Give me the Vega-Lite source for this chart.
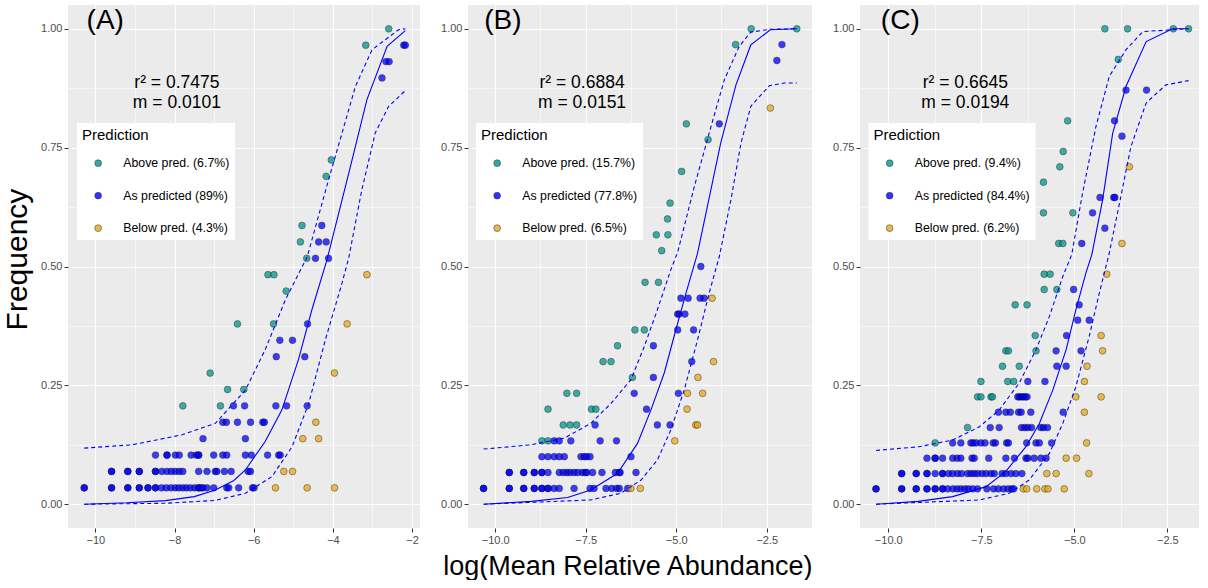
{
"$schema": "https://vega.github.io/schema/vega-lite/v6.json",
"padding": {"left": 2, "top": 5, "right": 0, "bottom": 0},
"background": "white",
"config": {
  "font": "Liberation Sans",
  "view": {"fill": "#EBEBEB", "stroke": null},
  "axis": {"domain": false, "gridColor": "white", "tickColor": "#333333", "tickSize": 4, "labelColor": "#4D4D4D", "labelFontSize": 11, "labelPadding": 2, "titleFontWeight": "normal", "titleColor": "black", "labelFont": "Liberation Sans", "titleFont": "Liberation Sans"},
  "legend": {"orient": "none", "legendX": 9, "legendY": 118, "fillColor": "white", "padding": 5, "titleFontSize": 15, "titleFontWeight": "normal", "titleColor": "black", "titlePadding": 14, "labelFontSize": 12.3, "labelColor": "black", "symbolType": "circle", "symbolSize": 46, "symbolStrokeColor": "black", "symbolStrokeWidth": 0.5, "symbolOpacity": 0.8, "rowPadding": 19.5, "symbolOffset": 10, "labelOffset": 19, "titleFont": "Liberation Sans", "labelFont": "Liberation Sans"}
},
"title": {"text": "log(Mean Relative Abundance)", "orient": "bottom", "fontSize": 27, "fontWeight": "normal", "color": "black", "font": "Liberation Sans", "offset": 9, "anchor": "middle", "dx": 27},
"spacing": 20,
"resolve": {"scale": {"x": "independent", "y": "independent", "fill": "independent"}, "legend": {"fill": "independent"}},
"datasets": {
"ptsA": [
{"x":-10.28,"y":0.0345,"pred":"As"},{"x":-10.28,"y":0.0345,"pred":"As"},{"x":-9.59,"y":0.0345,"pred":"As"},{"x":-9.59,"y":0.0345,"pred":"As"},{"x":-9.18,"y":0.0345,"pred":"As"},{"x":-9.18,"y":0.0345,"pred":"As"},{"x":-8.89,"y":0.0345,"pred":"As"},{"x":-8.89,"y":0.0345,"pred":"As"},{"x":-8.67,"y":0.0345,"pred":"As"},{"x":-8.67,"y":0.0345,"pred":"As"},{"x":-8.48,"y":0.0345,"pred":"As"},{"x":-8.48,"y":0.0345,"pred":"As"},{"x":-8.33,"y":0.0345,"pred":"As"},{"x":-8.21,"y":0.0345,"pred":"As"},{"x":-8.09,"y":0.0345,"pred":"As"},{"x":-7.98,"y":0.0345,"pred":"As"},{"x":-7.89,"y":0.0345,"pred":"As"},{"x":-7.79,"y":0.0345,"pred":"As"},{"x":-7.70,"y":0.0345,"pred":"As"},{"x":-7.60,"y":0.0345,"pred":"As"},{"x":-7.49,"y":0.0345,"pred":"As"},{"x":-7.39,"y":0.0345,"pred":"As"},{"x":-7.39,"y":0.0345,"pred":"As"},{"x":-7.32,"y":0.0345,"pred":"As"},{"x":-7.28,"y":0.0345,"pred":"As"},{"x":-7.18,"y":0.0345,"pred":"As"},{"x":-7.01,"y":0.0345,"pred":"As"},{"x":-6.68,"y":0.0345,"pred":"As"},{"x":-6.63,"y":0.0345,"pred":"As"},{"x":-6.38,"y":0.0345,"pred":"As"},{"x":-6.03,"y":0.0345,"pred":"As"},{"x":-5.99,"y":0.0345,"pred":"As"},{"x":-5.45,"y":0.0345,"pred":"Below"},{"x":-4.65,"y":0.0345,"pred":"Below"},{"x":-3.96,"y":0.0345,"pred":"Below"},
{"x":-9.59,"y":0.069,"pred":"As"},{"x":-9.59,"y":0.069,"pred":"As"},{"x":-9.18,"y":0.069,"pred":"As"},{"x":-9.18,"y":0.069,"pred":"As"},{"x":-8.89,"y":0.069,"pred":"As"},{"x":-8.89,"y":0.069,"pred":"As"},{"x":-8.48,"y":0.069,"pred":"As"},{"x":-8.48,"y":0.069,"pred":"As"},{"x":-8.32,"y":0.069,"pred":"As"},{"x":-8.19,"y":0.069,"pred":"As"},{"x":-8.08,"y":0.069,"pred":"As"},{"x":-7.98,"y":0.069,"pred":"As"},{"x":-7.88,"y":0.069,"pred":"As"},{"x":-7.79,"y":0.069,"pred":"As"},{"x":-7.39,"y":0.069,"pred":"As"},{"x":-7.18,"y":0.069,"pred":"As"},{"x":-6.97,"y":0.069,"pred":"As"},{"x":-6.93,"y":0.069,"pred":"As"},{"x":-6.74,"y":0.069,"pred":"As"},{"x":-6.57,"y":0.069,"pred":"As"},{"x":-6.14,"y":0.069,"pred":"As"},{"x":-6.08,"y":0.069,"pred":"As"},{"x":-5.24,"y":0.069,"pred":"Below"},{"x":-5.02,"y":0.069,"pred":"Below"},
{"x":-8.48,"y":0.1034,"pred":"As"},{"x":-8.19,"y":0.1034,"pred":"As"},{"x":-8.19,"y":0.1034,"pred":"As"},{"x":-7.98,"y":0.1034,"pred":"As"},{"x":-7.88,"y":0.1034,"pred":"As"},{"x":-7.58,"y":0.1034,"pred":"As"},{"x":-7.45,"y":0.1034,"pred":"As"},{"x":-7.39,"y":0.1034,"pred":"As"},{"x":-7.39,"y":0.1034,"pred":"As"},{"x":-7.01,"y":0.1034,"pred":"As"},{"x":-6.78,"y":0.1034,"pred":"As"},{"x":-6.68,"y":0.1034,"pred":"As"},{"x":-6.21,"y":0.1034,"pred":"As"},{"x":-6.06,"y":0.1034,"pred":"As"},{"x":-5.65,"y":0.1034,"pred":"As"},{"x":-5.37,"y":0.1034,"pred":"As"},{"x":-5.33,"y":0.1034,"pred":"As"},
{"x":-7.28,"y":0.1379,"pred":"As"},{"x":-6.21,"y":0.1379,"pred":"As"},{"x":-4.76,"y":0.1379,"pred":"Below"},{"x":-4.36,"y":0.1379,"pred":"Below"},
{"x":-6.78,"y":0.1724,"pred":"As"},{"x":-6.69,"y":0.1724,"pred":"As"},{"x":-6.41,"y":0.1724,"pred":"As"},{"x":-6.08,"y":0.1724,"pred":"As"},{"x":-5.77,"y":0.1724,"pred":"As"},{"x":-5.73,"y":0.1724,"pred":"As"},{"x":-4.43,"y":0.1724,"pred":"Below"},
{"x":-7.79,"y":0.2069,"pred":"Above"},{"x":-6.84,"y":0.2069,"pred":"Above"},{"x":-6.51,"y":0.2069,"pred":"As"},{"x":-6.23,"y":0.2069,"pred":"As"},{"x":-5.44,"y":0.2069,"pred":"As"},{"x":-5.17,"y":0.2069,"pred":"As"},{"x":-4.65,"y":0.2069,"pred":"As"},
{"x":-6.66,"y":0.2414,"pred":"Above"},{"x":-6.25,"y":0.2414,"pred":"Above"},
{"x":-7.10,"y":0.2759,"pred":"Above"},{"x":-3.96,"y":0.2759,"pred":"Below"},
{"x":-5.43,"y":0.3103,"pred":"As"},{"x":-4.71,"y":0.3103,"pred":"As"},
{"x":-5.34,"y":0.3448,"pred":"As"},{"x":-5.02,"y":0.3448,"pred":"As"},
{"x":-6.41,"y":0.3793,"pred":"Above"},{"x":-5.50,"y":0.3793,"pred":"Above"},{"x":-4.64,"y":0.3793,"pred":"As"},{"x":-3.64,"y":0.3793,"pred":"Below"},
{"x":-5.18,"y":0.4483,"pred":"Above"},
{"x":-5.64,"y":0.4828,"pred":"Above"},{"x":-5.49,"y":0.4828,"pred":"Above"},{"x":-3.14,"y":0.4828,"pred":"Below"},
{"x":-4.66,"y":0.5172,"pred":"Above"},{"x":-4.44,"y":0.5172,"pred":"As"},{"x":-4.11,"y":0.5172,"pred":"As"},
{"x":-4.82,"y":0.5517,"pred":"Above"},{"x":-4.36,"y":0.5517,"pred":"As"},{"x":-4.17,"y":0.5517,"pred":"As"},
{"x":-4.78,"y":0.5862,"pred":"Above"},{"x":-4.28,"y":0.5862,"pred":"As"},
{"x":-4.17,"y":0.6897,"pred":"Above"},
{"x":-4.04,"y":0.7241,"pred":"Above"},
{"x":-2.76,"y":0.8966,"pred":"As"},
{"x":-2.66,"y":0.931,"pred":"As"},{"x":-2.58,"y":0.931,"pred":"As"},
{"x":-3.17,"y":0.9655,"pred":"Above"},{"x":-2.21,"y":0.9655,"pred":"As"},{"x":-2.17,"y":0.9655,"pred":"As"},
{"x":-2.59,"y":1.0,"pred":"Above"}
],
"ptsB": [
{"x":-10.32,"y":0.0333,"pred":"As"},{"x":-10.32,"y":0.0333,"pred":"As"},{"x":-9.61,"y":0.0333,"pred":"As"},{"x":-9.61,"y":0.0333,"pred":"As"},{"x":-9.21,"y":0.0333,"pred":"As"},{"x":-9.21,"y":0.0333,"pred":"As"},{"x":-8.92,"y":0.0333,"pred":"As"},{"x":-8.92,"y":0.0333,"pred":"As"},{"x":-8.71,"y":0.0333,"pred":"As"},{"x":-8.71,"y":0.0333,"pred":"As"},{"x":-8.54,"y":0.0333,"pred":"As"},{"x":-8.54,"y":0.0333,"pred":"As"},{"x":-8.37,"y":0.0333,"pred":"As"},{"x":-8.23,"y":0.0333,"pred":"As"},{"x":-7.82,"y":0.0333,"pred":"As"},{"x":-7.38,"y":0.0333,"pred":"As"},{"x":-7.27,"y":0.0333,"pred":"As"},{"x":-6.94,"y":0.0333,"pred":"As"},{"x":-6.78,"y":0.0333,"pred":"As"},{"x":-6.64,"y":0.0333,"pred":"As"},{"x":-6.57,"y":0.0333,"pred":"As"},{"x":-6.34,"y":0.0333,"pred":"As"},{"x":-6.25,"y":0.0333,"pred":"Below"},{"x":-5.99,"y":0.0333,"pred":"Below"},
{"x":-9.61,"y":0.0667,"pred":"As"},{"x":-9.61,"y":0.0667,"pred":"As"},{"x":-9.21,"y":0.0667,"pred":"As"},{"x":-9.21,"y":0.0667,"pred":"As"},{"x":-8.92,"y":0.0667,"pred":"As"},{"x":-8.92,"y":0.0667,"pred":"As"},{"x":-8.71,"y":0.0667,"pred":"As"},{"x":-8.71,"y":0.0667,"pred":"As"},{"x":-8.54,"y":0.0667,"pred":"As"},{"x":-8.23,"y":0.0667,"pred":"As"},{"x":-8.12,"y":0.0667,"pred":"As"},{"x":-8.02,"y":0.0667,"pred":"As"},{"x":-7.93,"y":0.0667,"pred":"As"},{"x":-7.82,"y":0.0667,"pred":"As"},{"x":-7.72,"y":0.0667,"pred":"As"},{"x":-7.59,"y":0.0667,"pred":"As"},{"x":-7.51,"y":0.0667,"pred":"As"},{"x":-7.47,"y":0.0667,"pred":"As"},{"x":-7.31,"y":0.0667,"pred":"As"},{"x":-7.05,"y":0.0667,"pred":"As"},{"x":-6.68,"y":0.0667,"pred":"As"},{"x":-6.57,"y":0.0667,"pred":"As"},{"x":-6.55,"y":0.0667,"pred":"As"},{"x":-6.11,"y":0.0667,"pred":"As"},
{"x":-8.71,"y":0.1,"pred":"As"},{"x":-8.54,"y":0.1,"pred":"As"},{"x":-8.37,"y":0.1,"pred":"As"},{"x":-8.23,"y":0.1,"pred":"As"},{"x":-8.09,"y":0.1,"pred":"As"},{"x":-7.63,"y":0.1,"pred":"As"},{"x":-7.54,"y":0.1,"pred":"As"},{"x":-7.47,"y":0.1,"pred":"As"},{"x":-7.38,"y":0.1,"pred":"As"},{"x":-6.25,"y":0.1,"pred":"As"},
{"x":-8.71,"y":0.1333,"pred":"Above"},{"x":-8.54,"y":0.1333,"pred":"Above"},{"x":-8.37,"y":0.1333,"pred":"As"},{"x":-8.23,"y":0.1333,"pred":"As"},{"x":-7.91,"y":0.1333,"pred":"As"},{"x":-7.10,"y":0.1333,"pred":"As"},{"x":-6.65,"y":0.1333,"pred":"As"},{"x":-5.04,"y":0.1333,"pred":"Below"},
{"x":-8.12,"y":0.1667,"pred":"Above"},{"x":-7.93,"y":0.1667,"pred":"Above"},{"x":-7.75,"y":0.1667,"pred":"Above"},{"x":-7.24,"y":0.1667,"pred":"As"},{"x":-5.52,"y":0.1667,"pred":"As"},{"x":-5.17,"y":0.1667,"pred":"As"},{"x":-4.46,"y":0.1667,"pred":"Below"},{"x":-4.41,"y":0.1667,"pred":"Below"},
{"x":-8.54,"y":0.2,"pred":"Above"},{"x":-7.34,"y":0.2,"pred":"Above"},{"x":-7.22,"y":0.2,"pred":"Above"},{"x":-5.82,"y":0.2,"pred":"As"},{"x":-4.70,"y":0.2,"pred":"Below"},
{"x":-8.02,"y":0.2333,"pred":"Above"},{"x":-7.75,"y":0.2333,"pred":"Above"},{"x":-6.16,"y":0.2333,"pred":"As"},{"x":-4.94,"y":0.2333,"pred":"As"},{"x":-4.69,"y":0.2333,"pred":"Below"},{"x":-4.27,"y":0.2333,"pred":"Below"},
{"x":-6.21,"y":0.2667,"pred":"Above"},{"x":-5.63,"y":0.2667,"pred":"As"},{"x":-4.40,"y":0.2667,"pred":"Below"},
{"x":-7.02,"y":0.3,"pred":"Above"},{"x":-6.80,"y":0.3,"pred":"Above"},{"x":-4.57,"y":0.3,"pred":"As"},{"x":-3.97,"y":0.3,"pred":"Below"},
{"x":-6.62,"y":0.3333,"pred":"Above"},{"x":-5.63,"y":0.3333,"pred":"As"},
{"x":-6.14,"y":0.3667,"pred":"Above"},{"x":-5.88,"y":0.3667,"pred":"Above"},{"x":-4.96,"y":0.3667,"pred":"As"},{"x":-4.52,"y":0.3667,"pred":"As"},
{"x":-4.96,"y":0.4,"pred":"As"},{"x":-4.92,"y":0.4,"pred":"As"},{"x":-4.76,"y":0.4,"pred":"As"},
{"x":-4.87,"y":0.4333,"pred":"As"},{"x":-4.67,"y":0.4333,"pred":"As"},{"x":-4.34,"y":0.4333,"pred":"As"},{"x":-4.23,"y":0.4333,"pred":"As"},{"x":-4.01,"y":0.4333,"pred":"Below"},
{"x":-5.86,"y":0.4667,"pred":"Above"},{"x":-5.49,"y":0.4667,"pred":"Above"},
{"x":-4.32,"y":0.5,"pred":"As"},
{"x":-5.40,"y":0.5333,"pred":"Above"},
{"x":-5.55,"y":0.5667,"pred":"Above"},{"x":-5.23,"y":0.5667,"pred":"Above"},
{"x":-5.24,"y":0.6,"pred":"Above"},
{"x":-5.17,"y":0.6333,"pred":"Above"},
{"x":-4.85,"y":0.7,"pred":"Above"},
{"x":-4.12,"y":0.7667,"pred":"Above"},
{"x":-4.72,"y":0.8,"pred":"Above"},{"x":-3.81,"y":0.8,"pred":"As"},
{"x":-2.40,"y":0.8333,"pred":"Below"},
{"x":-2.22,"y":0.9333,"pred":"As"},
{"x":-3.36,"y":0.9667,"pred":"Above"},{"x":-2.08,"y":0.9667,"pred":"As"},
{"x":-2.93,"y":1.0,"pred":"Above"},{"x":-1.67,"y":1.0,"pred":"Above"}
],
"ptsC": [
{"x":-10.33,"y":0.0323,"pred":"As"},{"x":-10.33,"y":0.0323,"pred":"As"},{"x":-9.64,"y":0.0323,"pred":"As"},{"x":-9.64,"y":0.0323,"pred":"As"},{"x":-9.25,"y":0.0323,"pred":"As"},{"x":-9.25,"y":0.0323,"pred":"As"},{"x":-8.96,"y":0.0323,"pred":"As"},{"x":-8.96,"y":0.0323,"pred":"As"},{"x":-8.74,"y":0.0323,"pred":"As"},{"x":-8.74,"y":0.0323,"pred":"As"},{"x":-8.54,"y":0.0323,"pred":"As"},{"x":-8.54,"y":0.0323,"pred":"As"},{"x":-8.40,"y":0.0323,"pred":"As"},{"x":-8.26,"y":0.0323,"pred":"As"},{"x":-8.15,"y":0.0323,"pred":"As"},{"x":-8.05,"y":0.0323,"pred":"As"},{"x":-7.94,"y":0.0323,"pred":"As"},{"x":-7.85,"y":0.0323,"pred":"As"},{"x":-7.73,"y":0.0323,"pred":"As"},{"x":-7.60,"y":0.0323,"pred":"As"},{"x":-7.35,"y":0.0323,"pred":"As"},{"x":-7.17,"y":0.0323,"pred":"As"},{"x":-7.04,"y":0.0323,"pred":"As"},{"x":-6.90,"y":0.0323,"pred":"As"},{"x":-6.78,"y":0.0323,"pred":"As"},{"x":-6.68,"y":0.0323,"pred":"As"},{"x":-6.63,"y":0.0323,"pred":"As"},{"x":-6.37,"y":0.0323,"pred":"Below"},{"x":-6.28,"y":0.0323,"pred":"Below"},{"x":-6.01,"y":0.0323,"pred":"Below"},{"x":-5.79,"y":0.0323,"pred":"Below"},{"x":-5.71,"y":0.0323,"pred":"Below"},{"x":-5.27,"y":0.0323,"pred":"Below"},
{"x":-9.64,"y":0.0645,"pred":"As"},{"x":-9.64,"y":0.0645,"pred":"As"},{"x":-9.25,"y":0.0645,"pred":"As"},{"x":-9.25,"y":0.0645,"pred":"As"},{"x":-8.96,"y":0.0645,"pred":"As"},{"x":-8.96,"y":0.0645,"pred":"As"},{"x":-8.74,"y":0.0645,"pred":"As"},{"x":-8.54,"y":0.0645,"pred":"As"},{"x":-8.54,"y":0.0645,"pred":"As"},{"x":-8.38,"y":0.0645,"pred":"As"},{"x":-8.27,"y":0.0645,"pred":"As"},{"x":-8.14,"y":0.0645,"pred":"As"},{"x":-8.03,"y":0.0645,"pred":"As"},{"x":-7.87,"y":0.0645,"pred":"As"},{"x":-7.78,"y":0.0645,"pred":"As"},{"x":-7.69,"y":0.0645,"pred":"As"},{"x":-7.60,"y":0.0645,"pred":"As"},{"x":-7.48,"y":0.0645,"pred":"As"},{"x":-7.37,"y":0.0645,"pred":"As"},{"x":-7.24,"y":0.0645,"pred":"As"},{"x":-7.15,"y":0.0645,"pred":"As"},{"x":-6.94,"y":0.0645,"pred":"As"},{"x":-6.84,"y":0.0645,"pred":"As"},{"x":-6.70,"y":0.0645,"pred":"As"},{"x":-6.57,"y":0.0645,"pred":"As"},{"x":-6.41,"y":0.0645,"pred":"As"},{"x":-5.74,"y":0.0645,"pred":"Below"},{"x":-5.49,"y":0.0645,"pred":"Below"},{"x":-4.61,"y":0.0645,"pred":"Below"},
{"x":-8.96,"y":0.0968,"pred":"As"},{"x":-8.74,"y":0.0968,"pred":"As"},{"x":-8.74,"y":0.0968,"pred":"As"},{"x":-8.54,"y":0.0968,"pred":"As"},{"x":-8.27,"y":0.0968,"pred":"As"},{"x":-8.15,"y":0.0968,"pred":"As"},{"x":-8.05,"y":0.0968,"pred":"As"},{"x":-7.75,"y":0.0968,"pred":"As"},{"x":-7.69,"y":0.0968,"pred":"As"},{"x":-7.30,"y":0.0968,"pred":"As"},{"x":-6.84,"y":0.0968,"pred":"As"},{"x":-6.61,"y":0.0968,"pred":"As"},{"x":-6.30,"y":0.0968,"pred":"As"},{"x":-6.25,"y":0.0968,"pred":"As"},{"x":-6.08,"y":0.0968,"pred":"As"},{"x":-5.90,"y":0.0968,"pred":"As"},{"x":-5.76,"y":0.0968,"pred":"As"},{"x":-5.22,"y":0.0968,"pred":"Below"},{"x":-4.94,"y":0.0968,"pred":"Below"},
{"x":-8.74,"y":0.129,"pred":"Above"},{"x":-8.27,"y":0.129,"pred":"As"},{"x":-8.05,"y":0.129,"pred":"As"},{"x":-7.78,"y":0.129,"pred":"As"},{"x":-7.72,"y":0.129,"pred":"As"},{"x":-7.64,"y":0.129,"pred":"As"},{"x":-7.51,"y":0.129,"pred":"As"},{"x":-7.40,"y":0.129,"pred":"As"},{"x":-7.18,"y":0.129,"pred":"As"},{"x":-7.12,"y":0.129,"pred":"As"},{"x":-6.82,"y":0.129,"pred":"As"},{"x":-6.77,"y":0.129,"pred":"As"},{"x":-6.28,"y":0.129,"pred":"As"},{"x":-6.03,"y":0.129,"pred":"As"},{"x":-5.94,"y":0.129,"pred":"As"},{"x":-5.61,"y":0.129,"pred":"As"},{"x":-4.67,"y":0.129,"pred":"Below"},
{"x":-7.87,"y":0.1613,"pred":"Above"},{"x":-7.26,"y":0.1613,"pred":"As"},{"x":-7.02,"y":0.1613,"pred":"As"},{"x":-6.42,"y":0.1613,"pred":"As"},{"x":-6.33,"y":0.1613,"pred":"As"},{"x":-6.25,"y":0.1613,"pred":"As"},{"x":-6.15,"y":0.1613,"pred":"As"},{"x":-5.90,"y":0.1613,"pred":"As"},{"x":-5.83,"y":0.1613,"pred":"As"},{"x":-5.72,"y":0.1613,"pred":"As"},
{"x":-7.04,"y":0.1935,"pred":"As"},{"x":-6.84,"y":0.1935,"pred":"As"},{"x":-6.72,"y":0.1935,"pred":"As"},{"x":-6.50,"y":0.1935,"pred":"As"},{"x":-6.43,"y":0.1935,"pred":"As"},{"x":-6.17,"y":0.1935,"pred":"As"},{"x":-5.30,"y":0.1935,"pred":"As"},{"x":-4.73,"y":0.1935,"pred":"Below"},
{"x":-7.60,"y":0.2258,"pred":"Above"},{"x":-7.51,"y":0.2258,"pred":"Above"},{"x":-7.24,"y":0.2258,"pred":"Above"},{"x":-7.20,"y":0.2258,"pred":"Above"},{"x":-6.52,"y":0.2258,"pred":"As"},{"x":-6.48,"y":0.2258,"pred":"As"},{"x":-6.42,"y":0.2258,"pred":"As"},{"x":-6.37,"y":0.2258,"pred":"As"},{"x":-6.32,"y":0.2258,"pred":"As"},{"x":-6.27,"y":0.2258,"pred":"As"},{"x":-4.96,"y":0.2258,"pred":"Below"},{"x":-4.28,"y":0.2258,"pred":"Below"},
{"x":-7.51,"y":0.2581,"pred":"Above"},{"x":-6.79,"y":0.2581,"pred":"Above"},{"x":-6.63,"y":0.2581,"pred":"Above"},{"x":-6.25,"y":0.2581,"pred":"As"},{"x":-5.79,"y":0.2581,"pred":"As"},{"x":-4.73,"y":0.2581,"pred":"Below"},
{"x":-6.93,"y":0.2903,"pred":"Above"},{"x":-6.48,"y":0.2903,"pred":"Above"},{"x":-5.47,"y":0.2903,"pred":"As"},{"x":-5.22,"y":0.2903,"pred":"As"},{"x":-4.66,"y":0.2903,"pred":"Below"},
{"x":-6.84,"y":0.3226,"pred":"Above"},{"x":-6.77,"y":0.3226,"pred":"Above"},{"x":-6.03,"y":0.3226,"pred":"Above"},{"x":-5.49,"y":0.3226,"pred":"As"},{"x":-4.82,"y":0.3226,"pred":"As"},{"x":-4.24,"y":0.3226,"pred":"Below"},
{"x":-6.05,"y":0.3548,"pred":"Above"},{"x":-5.21,"y":0.3548,"pred":"As"},{"x":-4.28,"y":0.3548,"pred":"Below"},
{"x":-4.91,"y":0.3871,"pred":"As"},{"x":-4.60,"y":0.3871,"pred":"As"},
{"x":-6.59,"y":0.4194,"pred":"Above"},{"x":-6.27,"y":0.4194,"pred":"Above"},{"x":-4.87,"y":0.4194,"pred":"As"},
{"x":-5.81,"y":0.4516,"pred":"Above"},{"x":-5.47,"y":0.4516,"pred":"Above"},{"x":-5.02,"y":0.4516,"pred":"As"},
{"x":-5.81,"y":0.4839,"pred":"Above"},{"x":-5.65,"y":0.4839,"pred":"Above"},{"x":-4.13,"y":0.4839,"pred":"Below"},
{"x":-5.42,"y":0.5484,"pred":"Above"},{"x":-5.31,"y":0.5484,"pred":"Above"},{"x":-4.80,"y":0.5484,"pred":"As"},{"x":-3.72,"y":0.5484,"pred":"Below"},
{"x":-4.18,"y":0.5806,"pred":"As"},
{"x":-5.83,"y":0.6129,"pred":"Above"},{"x":-5.04,"y":0.6129,"pred":"Above"},{"x":-4.51,"y":0.6129,"pred":"As"},
{"x":-4.31,"y":0.6452,"pred":"As"},{"x":-3.94,"y":0.6452,"pred":"As"},{"x":-3.91,"y":0.6452,"pred":"As"},
{"x":-5.83,"y":0.6774,"pred":"Above"},
{"x":-5.39,"y":0.7097,"pred":"Above"},{"x":-3.52,"y":0.7097,"pred":"Below"},
{"x":-5.30,"y":0.7419,"pred":"Above"},
{"x":-3.72,"y":0.7742,"pred":"As"},
{"x":-5.18,"y":0.8065,"pred":"Above"},{"x":-3.92,"y":0.8065,"pred":"As"},
{"x":-3.61,"y":0.871,"pred":"As"},{"x":-3.06,"y":0.871,"pred":"As"},
{"x":-3.82,"y":0.9355,"pred":"Above"},
{"x":-4.18,"y":1.0,"pred":"Above"},{"x":-3.57,"y":1.0,"pred":"Above"},{"x":-2.34,"y":1.0,"pred":"Above"},{"x":-1.93,"y":1.0,"pred":"Above"}
],
"curA": [
{"s":"fit","x":-10.28,"y":0.0},{"s":"fit","x":-9.2,"y":0.003},{"s":"fit","x":-8.23,"y":0.0076},{"s":"fit","x":-7.5,"y":0.016},{"s":"fit","x":-6.97,"y":0.03},{"s":"fit","x":-6.5,"y":0.05},{"s":"fit","x":-6.21,"y":0.072},{"s":"fit","x":-5.71,"y":0.132},{"s":"fit","x":-5.29,"y":0.198},{"s":"fit","x":-4.87,"y":0.304},{"s":"fit","x":-4.53,"y":0.409},{"s":"fit","x":-4.15,"y":0.514},{"s":"fit","x":-3.6,"y":0.696},{"s":"fit","x":-3.14,"y":0.851},{"s":"fit","x":-2.63,"y":0.963},{"s":"fit","x":-2.17,"y":0.996},
{"s":"upper","x":-10.28,"y":0.118},{"s":"upper","x":-9.07,"y":0.125},{"s":"upper","x":-7.81,"y":0.146},{"s":"upper","x":-6.97,"y":0.17},{"s":"upper","x":-6.21,"y":0.24},{"s":"upper","x":-5.71,"y":0.325},{"s":"upper","x":-5.2,"y":0.43},{"s":"upper","x":-4.65,"y":0.52},{"s":"upper","x":-4.11,"y":0.682},{"s":"upper","x":-3.43,"y":0.879},{"s":"upper","x":-3.01,"y":0.956},{"s":"upper","x":-2.34,"y":0.998},{"s":"upper","x":-2.17,"y":1.0},
{"s":"lower","x":-10.28,"y":0.0},{"s":"lower","x":-8.23,"y":0.002},{"s":"lower","x":-6.97,"y":0.008},{"s":"lower","x":-6.21,"y":0.023},{"s":"lower","x":-5.54,"y":0.058},{"s":"lower","x":-5.03,"y":0.121},{"s":"lower","x":-4.61,"y":0.212},{"s":"lower","x":-4.19,"y":0.346},{"s":"lower","x":-3.77,"y":0.465},{"s":"lower","x":-3.6,"y":0.518},{"s":"lower","x":-3.27,"y":0.661},{"s":"lower","x":-2.93,"y":0.781},{"s":"lower","x":-2.59,"y":0.837},{"s":"lower","x":-2.17,"y":0.87}
],
"curB": [
{"s":"fit","x":-10.32,"y":0.0},{"s":"fit","x":-9.0,"y":0.006},{"s":"fit","x":-8.0,"y":0.014},{"s":"fit","x":-7.36,"y":0.03},{"s":"fit","x":-6.62,"y":0.065},{"s":"fit","x":-6.07,"y":0.128},{"s":"fit","x":-5.7,"y":0.198},{"s":"fit","x":-5.33,"y":0.276},{"s":"fit","x":-5.01,"y":0.367},{"s":"fit","x":-4.73,"y":0.444},{"s":"fit","x":-4.41,"y":0.528},{"s":"fit","x":-3.77,"y":0.76},{"s":"fit","x":-3.35,"y":0.882},{"s":"fit","x":-2.94,"y":0.966},{"s":"fit","x":-2.4,"y":0.998},{"s":"fit","x":-1.67,"y":1.0},
{"s":"upper","x":-10.32,"y":0.116},{"s":"upper","x":-9.01,"y":0.125},{"s":"upper","x":-8.09,"y":0.139},{"s":"upper","x":-7.36,"y":0.17},{"s":"upper","x":-6.8,"y":0.212},{"s":"upper","x":-6.25,"y":0.262},{"s":"upper","x":-5.88,"y":0.332},{"s":"upper","x":-5.52,"y":0.409},{"s":"upper","x":-5.15,"y":0.493},{"s":"upper","x":-4.96,"y":0.53},{"s":"upper","x":-4.5,"y":0.668},{"s":"upper","x":-4.04,"y":0.794},{"s":"upper","x":-3.67,"y":0.893},{"s":"upper","x":-3.26,"y":0.963},{"s":"upper","x":-2.94,"y":0.993},{"s":"upper","x":-2.4,"y":0.999},{"s":"upper","x":-1.67,"y":1.0},
{"s":"lower","x":-10.32,"y":0.0},{"s":"lower","x":-7.36,"y":0.009},{"s":"lower","x":-6.53,"y":0.023},{"s":"lower","x":-5.97,"y":0.051},{"s":"lower","x":-5.52,"y":0.093},{"s":"lower","x":-5.15,"y":0.156},{"s":"lower","x":-4.78,"y":0.24},{"s":"lower","x":-4.41,"y":0.346},{"s":"lower","x":-4.09,"y":0.444},{"s":"lower","x":-3.81,"y":0.521},{"s":"lower","x":-3.49,"y":0.64},{"s":"lower","x":-3.21,"y":0.76},{"s":"lower","x":-2.94,"y":0.837},{"s":"lower","x":-2.43,"y":0.88},{"s":"lower","x":-2.01,"y":0.886},{"s":"lower","x":-1.67,"y":0.886}
],
"curC": [
{"s":"fit","x":-10.33,"y":0.0},{"s":"fit","x":-9.2,"y":0.006},{"s":"fit","x":-8.27,"y":0.016},{"s":"fit","x":-7.37,"y":0.037},{"s":"fit","x":-6.84,"y":0.069},{"s":"fit","x":-6.3,"y":0.121},{"s":"fit","x":-5.94,"y":0.17},{"s":"fit","x":-5.58,"y":0.24},{"s":"fit","x":-5.22,"y":0.325},{"s":"fit","x":-4.96,"y":0.409},{"s":"fit","x":-4.69,"y":0.486},{"s":"fit","x":-4.53,"y":0.525},{"s":"fit","x":-4.24,"y":0.64},{"s":"fit","x":-3.97,"y":0.78},{"s":"fit","x":-3.61,"y":0.879},{"s":"fit","x":-3.07,"y":0.973},{"s":"fit","x":-2.36,"y":1.0},{"s":"fit","x":-1.93,"y":1.0},
{"s":"upper","x":-10.33,"y":0.113},{"s":"upper","x":-9.17,"y":0.121},{"s":"upper","x":-8.27,"y":0.135},{"s":"upper","x":-7.55,"y":0.163},{"s":"upper","x":-7.02,"y":0.198},{"s":"upper","x":-6.48,"y":0.255},{"s":"upper","x":-6.03,"y":0.325},{"s":"upper","x":-5.67,"y":0.395},{"s":"upper","x":-5.31,"y":0.479},{"s":"upper","x":-5.07,"y":0.525},{"s":"upper","x":-4.78,"y":0.654},{"s":"upper","x":-4.42,"y":0.794},{"s":"upper","x":-4.06,"y":0.9},{"s":"upper","x":-3.61,"y":0.956},{"s":"upper","x":-3.16,"y":0.994},{"s":"upper","x":-2.36,"y":0.998},{"s":"upper","x":-1.93,"y":1.0},
{"s":"lower","x":-10.33,"y":0.0},{"s":"lower","x":-7.55,"y":0.009},{"s":"lower","x":-6.75,"y":0.023},{"s":"lower","x":-6.21,"y":0.051},{"s":"lower","x":-5.67,"y":0.107},{"s":"lower","x":-5.31,"y":0.17},{"s":"lower","x":-4.96,"y":0.247},{"s":"lower","x":-4.6,"y":0.353},{"s":"lower","x":-4.33,"y":0.444},{"s":"lower","x":-4.07,"y":0.525},{"s":"lower","x":-3.75,"y":0.647},{"s":"lower","x":-3.48,"y":0.752},{"s":"lower","x":-3.07,"y":0.844},{"s":"lower","x":-2.54,"y":0.882},{"s":"lower","x":-1.93,"y":0.891}
]
},
"hconcat": [
{
 "width": 352, "height": 523,
 "layer": [
  {"data": {"name": "ptsA"},
   "mark": {"type": "circle", "size": 46, "stroke": "black", "strokeWidth": 0.5, "opacity": 0.75},
   "encoding": {
    "x": {"field": "x", "type": "quantitative", "scale": {"domain": [-10.69, -1.8], "nice": false, "zero": false},
      "axis": {"title": null, "values": [-10,-9,-8,-7,-6,-5,-4,-3,-2], "labelExpr": "datum.value % 2 == 0 ? format(datum.value, 'd') : ''", "gridWidth": {"condition": {"test": "datum.value % 2 == 0", "value": 1.1}, "value": 0.55}, "tickOpacity": {"condition": {"test": "datum.value % 2 == 0", "value": 1}, "value": 0}}},
    "y": {"field": "y", "type": "quantitative", "scale": {"domain": [-0.05, 1.05], "nice": false, "zero": false},
      "axis": {"title": "Frequency", "titleFontSize": 30, "titlePadding": 8, "titleY": 254, "values": [0,0.125,0.25,0.375,0.5,0.625,0.75,0.875,1], "labelExpr": "(datum.value * 8) % 2 == 0 ? format(datum.value, '.2f') : ''", "gridWidth": {"condition": {"test": "(datum.value * 8) % 2 == 0", "value": 1.1}, "value": 0.55}, "tickOpacity": {"condition": {"test": "(datum.value * 8) % 2 == 0", "value": 1}, "value": 0}}},
    "fill": {"field": "pred", "type": "nominal", "scale": {"domain": ["Above", "As", "Below"], "range": ["#00968C", "#0000FF", "#E6A817"]},
      "legend": {"title": "Prediction", "labelExpr": "datum.label == 'Above' ? 'Above pred. (6.7%)' : datum.label == 'As' ? 'As predicted (89%)' : 'Below pred. (4.3%)'"}}
   }},
  {"data": {"name": "curA"}, "transform": [{"filter": "datum.s == 'fit'"}],
   "mark": {"type": "line", "color": "#0000FF", "strokeWidth": 1.1},
   "encoding": {"x": {"field": "x", "type": "quantitative"}, "y": {"field": "y", "type": "quantitative"}}},
  {"data": {"name": "curA"}, "transform": [{"filter": "datum.s != 'fit'"}],
   "mark": {"type": "line", "color": "#0000FF", "strokeWidth": 1.1, "strokeDash": [4, 3]},
   "encoding": {"x": {"field": "x", "type": "quantitative"}, "y": {"field": "y", "type": "quantitative"}, "detail": {"field": "s"}}},
  {"data": {"values": [{}]}, "mark": {"type": "text", "text": "(A)", "fontSize": 28, "align": "left", "baseline": "middle", "color": "black"},
   "encoding": {"x": {"datum": -10.22, "type": "quantitative"}, "y": {"datum": 1.016, "type": "quantitative"}}},
  {"data": {"values": [{}]}, "mark": {"type": "text", "text": "r² = 0.7475", "fontSize": 17.5, "align": "center", "baseline": "alphabetic", "color": "black"},
   "encoding": {"x": {"datum": -7.94, "type": "quantitative"}, "y": {"datum": 0.876, "type": "quantitative"}}},
  {"data": {"values": [{}]}, "mark": {"type": "text", "text": "m = 0.0101", "fontSize": 17.5, "align": "center", "baseline": "alphabetic", "color": "black"},
   "encoding": {"x": {"datum": -7.94, "type": "quantitative"}, "y": {"datum": 0.834, "type": "quantitative"}}}
 ]
},
{
 "width": 344, "height": 523,
 "layer": [
  {"data": {"name": "ptsB"},
   "mark": {"type": "circle", "size": 46, "stroke": "black", "strokeWidth": 0.5, "opacity": 0.75},
   "encoding": {
    "x": {"field": "x", "type": "quantitative", "scale": {"domain": [-10.75, -1.25], "nice": false, "zero": false},
      "axis": {"title": null, "values": [-10,-8.75,-7.5,-6.25,-5,-3.75,-2.5], "labelExpr": "datum.value % 2.5 == 0 ? format(datum.value, '.1f') : ''", "gridWidth": {"condition": {"test": "datum.value % 2.5 == 0", "value": 1.1}, "value": 0.55}, "tickOpacity": {"condition": {"test": "datum.value % 2.5 == 0", "value": 1}, "value": 0}}},
    "y": {"field": "y", "type": "quantitative", "scale": {"domain": [-0.05, 1.05], "nice": false, "zero": false},
      "axis": {"title": null, "values": [0,0.125,0.25,0.375,0.5,0.625,0.75,0.875,1], "labelExpr": "(datum.value * 8) % 2 == 0 ? format(datum.value, '.2f') : ''", "gridWidth": {"condition": {"test": "(datum.value * 8) % 2 == 0", "value": 1.1}, "value": 0.55}, "tickOpacity": {"condition": {"test": "(datum.value * 8) % 2 == 0", "value": 1}, "value": 0}}},
    "fill": {"field": "pred", "type": "nominal", "scale": {"domain": ["Above", "As", "Below"], "range": ["#00968C", "#0000FF", "#E6A817"]},
      "legend": {"title": "Prediction", "legendX": 8, "labelExpr": "datum.label == 'Above' ? 'Above pred. (15.7%)' : datum.label == 'As' ? 'As predicted (77.8%)' : 'Below pred. (6.5%)'"}}
   }},
  {"data": {"name": "curB"}, "transform": [{"filter": "datum.s == 'fit'"}],
   "mark": {"type": "line", "color": "#0000FF", "strokeWidth": 1.1},
   "encoding": {"x": {"field": "x", "type": "quantitative"}, "y": {"field": "y", "type": "quantitative"}}},
  {"data": {"name": "curB"}, "transform": [{"filter": "datum.s != 'fit'"}],
   "mark": {"type": "line", "color": "#0000FF", "strokeWidth": 1.1, "strokeDash": [4, 3]},
   "encoding": {"x": {"field": "x", "type": "quantitative"}, "y": {"field": "y", "type": "quantitative"}, "detail": {"field": "s"}}},
  {"data": {"values": [{}]}, "mark": {"type": "text", "text": "(B)", "fontSize": 28, "align": "left", "baseline": "middle", "color": "black"},
   "encoding": {"x": {"datum": -10.3, "type": "quantitative"}, "y": {"datum": 1.016, "type": "quantitative"}}},
  {"data": {"values": [{}]}, "mark": {"type": "text", "text": "r² = 0.6884", "fontSize": 17.5, "align": "center", "baseline": "alphabetic", "color": "black"},
   "encoding": {"x": {"datum": -7.6, "type": "quantitative"}, "y": {"datum": 0.876, "type": "quantitative"}}},
  {"data": {"values": [{}]}, "mark": {"type": "text", "text": "m = 0.0151", "fontSize": 17.5, "align": "center", "baseline": "alphabetic", "color": "black"},
   "encoding": {"x": {"datum": -7.6, "type": "quantitative"}, "y": {"datum": 0.834, "type": "quantitative"}}}
 ]
},
{
 "width": 339, "height": 523,
 "layer": [
  {"data": {"name": "ptsC"},
   "mark": {"type": "circle", "size": 46, "stroke": "black", "strokeWidth": 0.5, "opacity": 0.75},
   "encoding": {
    "x": {"field": "x", "type": "quantitative", "scale": {"domain": [-10.76, -1.65], "nice": false, "zero": false},
      "axis": {"title": null, "values": [-10,-8.75,-7.5,-6.25,-5,-3.75,-2.5], "labelExpr": "datum.value % 2.5 == 0 ? format(datum.value, '.1f') : ''", "gridWidth": {"condition": {"test": "datum.value % 2.5 == 0", "value": 1.1}, "value": 0.55}, "tickOpacity": {"condition": {"test": "datum.value % 2.5 == 0", "value": 1}, "value": 0}}},
    "y": {"field": "y", "type": "quantitative", "scale": {"domain": [-0.05, 1.05], "nice": false, "zero": false},
      "axis": {"title": null, "values": [0,0.125,0.25,0.375,0.5,0.625,0.75,0.875,1], "labelExpr": "(datum.value * 8) % 2 == 0 ? format(datum.value, '.2f') : ''", "gridWidth": {"condition": {"test": "(datum.value * 8) % 2 == 0", "value": 1.1}, "value": 0.55}, "tickOpacity": {"condition": {"test": "(datum.value * 8) % 2 == 0", "value": 1}, "value": 0}}},
    "fill": {"field": "pred", "type": "nominal", "scale": {"domain": ["Above", "As", "Below"], "range": ["#00968C", "#0000FF", "#E6A817"]},
      "legend": {"title": "Prediction", "legendX": 8.5, "labelExpr": "datum.label == 'Above' ? 'Above pred. (9.4%)' : datum.label == 'As' ? 'As predicted (84.4%)' : 'Below pred. (6.2%)'"}}
   }},
  {"data": {"name": "curC"}, "transform": [{"filter": "datum.s == 'fit'"}],
   "mark": {"type": "line", "color": "#0000FF", "strokeWidth": 1.1},
   "encoding": {"x": {"field": "x", "type": "quantitative"}, "y": {"field": "y", "type": "quantitative"}}},
  {"data": {"name": "curC"}, "transform": [{"filter": "datum.s != 'fit'"}],
   "mark": {"type": "line", "color": "#0000FF", "strokeWidth": 1.1, "strokeDash": [4, 3]},
   "encoding": {"x": {"field": "x", "type": "quantitative"}, "y": {"field": "y", "type": "quantitative"}, "detail": {"field": "s"}}},
  {"data": {"values": [{}]}, "mark": {"type": "text", "text": "(C)", "fontSize": 28, "align": "left", "baseline": "middle", "color": "black"},
   "encoding": {"x": {"datum": -10.2, "type": "quantitative"}, "y": {"datum": 1.016, "type": "quantitative"}}},
  {"data": {"values": [{}]}, "mark": {"type": "text", "text": "r² = 0.6645", "fontSize": 17.5, "align": "center", "baseline": "alphabetic", "color": "black"},
   "encoding": {"x": {"datum": -7.93, "type": "quantitative"}, "y": {"datum": 0.876, "type": "quantitative"}}},
  {"data": {"values": [{}]}, "mark": {"type": "text", "text": "m = 0.0194", "fontSize": 17.5, "align": "center", "baseline": "alphabetic", "color": "black"},
   "encoding": {"x": {"datum": -7.93, "type": "quantitative"}, "y": {"datum": 0.834, "type": "quantitative"}}}
 ]
}
]
}
